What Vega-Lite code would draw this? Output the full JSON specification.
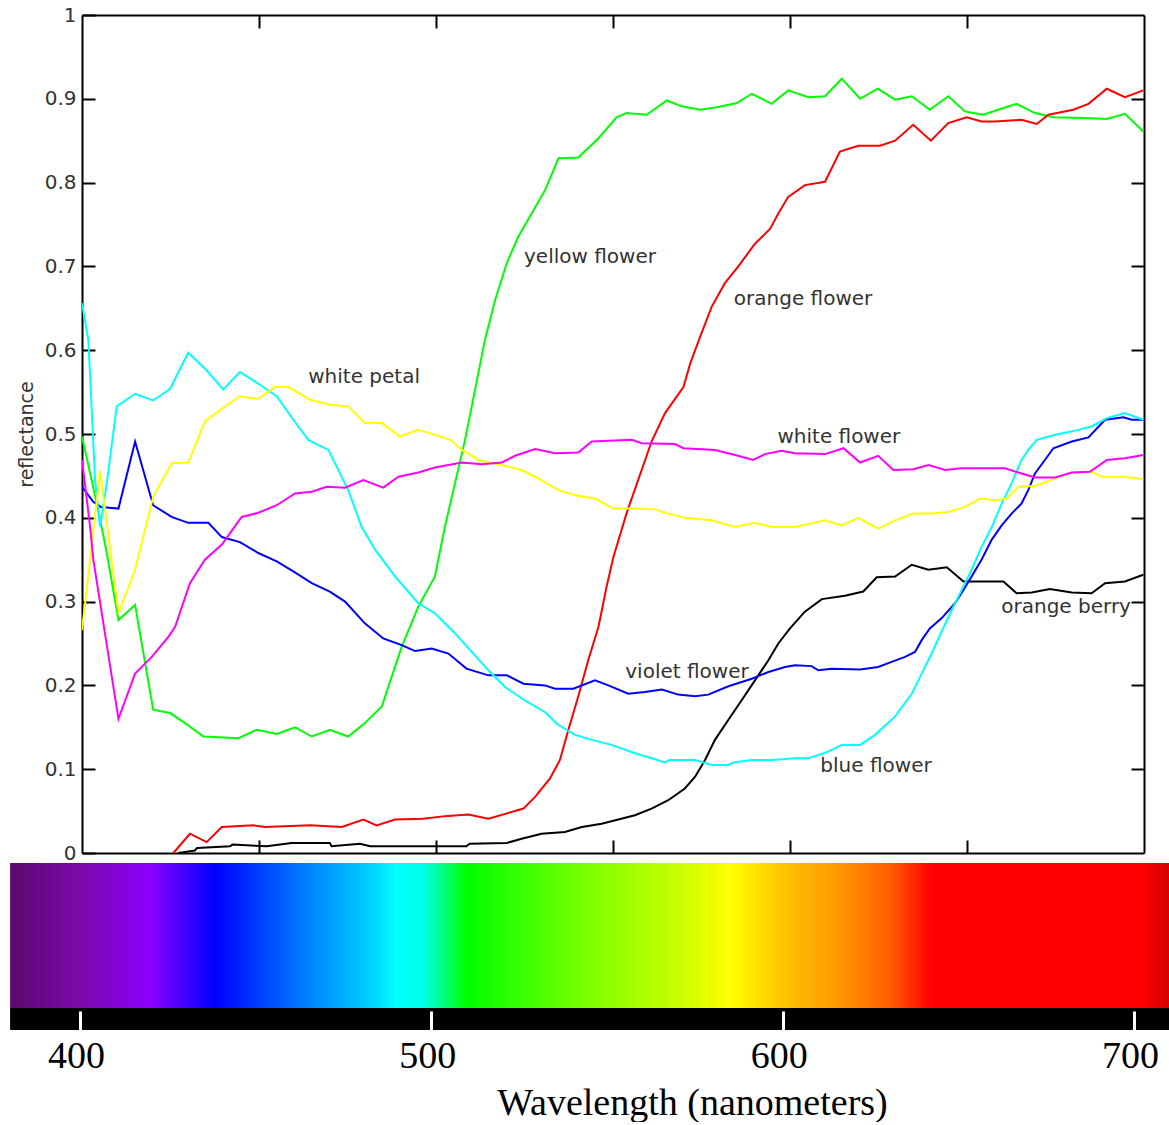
{
  "$schema": "https://vega.github.io/schema/vega-lite/v6.json",
  "background": "white",
  "padding": {"left": 10, "top": 5, "right": 0, "bottom": 0},
  "config": {"view": {"stroke": null}, "axis": {"grid": false}},
  "spacing": 0,
  "resolve": {"scale": {"x": "independent", "y": "independent"}},
  "datasets": {
    "spectra": [
      {"s":"yellow flower","wl":400.0,"r":0.497},{"s":"yellow flower","wl":404.6,"r":0.409},{"s":"yellow flower","wl":407.0,"r":0.358},{"s":"yellow flower","wl":410.3,"r":0.278},{"s":"yellow flower","wl":415.0,"r":0.296},{"s":"yellow flower","wl":420.1,"r":0.171},{"s":"yellow flower","wl":424.9,"r":0.167},{"s":"yellow flower","wl":429.1,"r":0.155},{"s":"yellow flower","wl":434.3,"r":0.139},{"s":"yellow flower","wl":444.2,"r":0.137},{"s":"yellow flower","wl":449.3,"r":0.147},{"s":"yellow flower","wl":455.0,"r":0.142},{"s":"yellow flower","wl":460.2,"r":0.150},{"s":"yellow flower","wl":464.9,"r":0.139},{"s":"yellow flower","wl":470.0,"r":0.147},{"s":"yellow flower","wl":475.2,"r":0.139},{"s":"yellow flower","wl":479.9,"r":0.155},{"s":"yellow flower","wl":484.7,"r":0.175},{"s":"yellow flower","wl":490.3,"r":0.246},{"s":"yellow flower","wl":495.0,"r":0.294},{"s":"yellow flower","wl":499.7,"r":0.330},{"s":"yellow flower","wl":502.5,"r":0.389},{"s":"yellow flower","wl":508.2,"r":0.493},{"s":"yellow flower","wl":511.0,"r":0.552},{"s":"yellow flower","wl":513.8,"r":0.612},{"s":"yellow flower","wl":516.7,"r":0.660},{"s":"yellow flower","wl":520.0,"r":0.704},{"s":"yellow flower","wl":523.2,"r":0.735},{"s":"yellow flower","wl":527.0,"r":0.763},{"s":"yellow flower","wl":530.8,"r":0.791},{"s":"yellow flower","wl":534.6,"r":0.829},{"s":"yellow flower","wl":540.2,"r":0.830},{"s":"yellow flower","wl":545.9,"r":0.853},{"s":"yellow flower","wl":551.0,"r":0.878},{"s":"yellow flower","wl":553.8,"r":0.883},{"s":"yellow flower","wl":559.5,"r":0.881},{"s":"yellow flower","wl":565.2,"r":0.898},{"s":"yellow flower","wl":569.4,"r":0.891},{"s":"yellow flower","wl":574.6,"r":0.887},{"s":"yellow flower","wl":579.3,"r":0.890},{"s":"yellow flower","wl":585.0,"r":0.895},{"s":"yellow flower","wl":589.2,"r":0.906},{"s":"yellow flower","wl":594.8,"r":0.894},{"s":"yellow flower","wl":599.5,"r":0.910},{"s":"yellow flower","wl":605.2,"r":0.902},{"s":"yellow flower","wl":609.9,"r":0.903},{"s":"yellow flower","wl":614.6,"r":0.924},{"s":"yellow flower","wl":619.8,"r":0.900},{"s":"yellow flower","wl":624.8,"r":0.912},{"s":"yellow flower","wl":629.7,"r":0.899},{"s":"yellow flower","wl":634.4,"r":0.903},{"s":"yellow flower","wl":639.5,"r":0.887},{"s":"yellow flower","wl":644.7,"r":0.903},{"s":"yellow flower","wl":649.4,"r":0.885},{"s":"yellow flower","wl":654.6,"r":0.881},{"s":"yellow flower","wl":658.8,"r":0.887},{"s":"yellow flower","wl":664.0,"r":0.894},{"s":"yellow flower","wl":669.2,"r":0.883},{"s":"yellow flower","wl":674.4,"r":0.878},{"s":"yellow flower","wl":683.3,"r":0.877},{"s":"yellow flower","wl":689.5,"r":0.876},{"s":"yellow flower","wl":694.6,"r":0.882},{"s":"yellow flower","wl":699.8,"r":0.861},

      {"s":"orange flower","wl":425.8,"r":0.000},{"s":"orange flower","wl":430.5,"r":0.023},{"s":"orange flower","wl":435.2,"r":0.013},{"s":"orange flower","wl":439.5,"r":0.031},{"s":"orange flower","wl":448.4,"r":0.033},{"s":"orange flower","wl":451.7,"r":0.031},{"s":"orange flower","wl":464.4,"r":0.033},{"s":"orange flower","wl":473.4,"r":0.031},{"s":"orange flower","wl":479.5,"r":0.040},{"s":"orange flower","wl":483.2,"r":0.033},{"s":"orange flower","wl":488.4,"r":0.040},{"s":"orange flower","wl":496.4,"r":0.041},{"s":"orange flower","wl":502.5,"r":0.044},{"s":"orange flower","wl":509.1,"r":0.046},{"s":"orange flower","wl":514.8,"r":0.041},{"s":"orange flower","wl":524.7,"r":0.053},{"s":"orange flower","wl":528.0,"r":0.067},{"s":"orange flower","wl":532.2,"r":0.089},{"s":"orange flower","wl":535.0,"r":0.111},{"s":"orange flower","wl":537.4,"r":0.147},{"s":"orange flower","wl":540.2,"r":0.187},{"s":"orange flower","wl":543.0,"r":0.230},{"s":"orange flower","wl":545.9,"r":0.270},{"s":"orange flower","wl":548.2,"r":0.318},{"s":"orange flower","wl":550.1,"r":0.353},{"s":"orange flower","wl":553.8,"r":0.405},{"s":"orange flower","wl":557.1,"r":0.445},{"s":"orange flower","wl":560.9,"r":0.491},{"s":"orange flower","wl":564.7,"r":0.525},{"s":"orange flower","wl":569.9,"r":0.556},{"s":"orange flower","wl":571.8,"r":0.584},{"s":"orange flower","wl":574.6,"r":0.616},{"s":"orange flower","wl":577.9,"r":0.652},{"s":"orange flower","wl":581.6,"r":0.680},{"s":"orange flower","wl":585.4,"r":0.700},{"s":"orange flower","wl":590.1,"r":0.727},{"s":"orange flower","wl":594.4,"r":0.745},{"s":"orange flower","wl":596.7,"r":0.763},{"s":"orange flower","wl":599.5,"r":0.783},{"s":"orange flower","wl":604.2,"r":0.797},{"s":"orange flower","wl":609.9,"r":0.801},{"s":"orange flower","wl":614.1,"r":0.837},{"s":"orange flower","wl":619.3,"r":0.844},{"s":"orange flower","wl":625.4,"r":0.844},{"s":"orange flower","wl":629.7,"r":0.850},{"s":"orange flower","wl":634.8,"r":0.869},{"s":"orange flower","wl":639.8,"r":0.850},{"s":"orange flower","wl":644.7,"r":0.871},{"s":"orange flower","wl":649.9,"r":0.878},{"s":"orange flower","wl":654.1,"r":0.873},{"s":"orange flower","wl":657.9,"r":0.873},{"s":"orange flower","wl":665.4,"r":0.875},{"s":"orange flower","wl":669.7,"r":0.870},{"s":"orange flower","wl":673.0,"r":0.881},{"s":"orange flower","wl":680.0,"r":0.887},{"s":"orange flower","wl":684.3,"r":0.894},{"s":"orange flower","wl":689.5,"r":0.912},{"s":"orange flower","wl":694.6,"r":0.902},{"s":"orange flower","wl":699.8,"r":0.910},

      {"s":"orange berry","wl":427.2,"r":0.000},{"s":"orange berry","wl":431.9,"r":0.003},{"s":"orange berry","wl":432.5,"r":0.006},{"s":"orange berry","wl":441.8,"r":0.008},{"s":"orange berry","wl":442.5,"r":0.010},{"s":"orange berry","wl":452.2,"r":0.008},{"s":"orange berry","wl":459.2,"r":0.012},{"s":"orange berry","wl":470.0,"r":0.012},{"s":"orange berry","wl":470.5,"r":0.008},{"s":"orange berry","wl":478.5,"r":0.011},{"s":"orange berry","wl":481.4,"r":0.008},{"s":"orange berry","wl":499.7,"r":0.008},{"s":"orange berry","wl":508.6,"r":0.008},{"s":"orange berry","wl":509.5,"r":0.011},{"s":"orange berry","wl":520.0,"r":0.012},{"s":"orange berry","wl":524.2,"r":0.017},{"s":"orange berry","wl":529.8,"r":0.023},{"s":"orange berry","wl":536.4,"r":0.025},{"s":"orange berry","wl":541.2,"r":0.031},{"s":"orange berry","wl":546.8,"r":0.035},{"s":"orange berry","wl":551.5,"r":0.040},{"s":"orange berry","wl":556.2,"r":0.045},{"s":"orange berry","wl":560.9,"r":0.053},{"s":"orange berry","wl":565.6,"r":0.063},{"s":"orange berry","wl":570.3,"r":0.077},{"s":"orange berry","wl":573.2,"r":0.091},{"s":"orange berry","wl":576.0,"r":0.111},{"s":"orange berry","wl":578.8,"r":0.135},{"s":"orange berry","wl":582.6,"r":0.159},{"s":"orange berry","wl":586.3,"r":0.182},{"s":"orange berry","wl":590.1,"r":0.206},{"s":"orange berry","wl":593.9,"r":0.230},{"s":"orange berry","wl":596.7,"r":0.250},{"s":"orange berry","wl":600.0,"r":0.268},{"s":"orange berry","wl":604.2,"r":0.288},{"s":"orange berry","wl":609.0,"r":0.303},{"s":"orange berry","wl":615.5,"r":0.307},{"s":"orange berry","wl":620.7,"r":0.312},{"s":"orange berry","wl":624.5,"r":0.329},{"s":"orange berry","wl":629.7,"r":0.330},{"s":"orange berry","wl":634.4,"r":0.344},{"s":"orange berry","wl":639.1,"r":0.338},{"s":"orange berry","wl":644.3,"r":0.341},{"s":"orange berry","wl":649.0,"r":0.324},{"s":"orange berry","wl":660.3,"r":0.324},{"s":"orange berry","wl":664.0,"r":0.310},{"s":"orange berry","wl":668.3,"r":0.311},{"s":"orange berry","wl":673.4,"r":0.315},{"s":"orange berry","wl":679.6,"r":0.311},{"s":"orange berry","wl":685.2,"r":0.310},{"s":"orange berry","wl":689.0,"r":0.322},{"s":"orange berry","wl":694.6,"r":0.324},{"s":"orange berry","wl":699.8,"r":0.332},

      {"s":"violet flower","wl":400.0,"r":0.437},{"s":"violet flower","wl":403.2,"r":0.419},{"s":"violet flower","wl":405.3,"r":0.413},{"s":"violet flower","wl":410.3,"r":0.411},{"s":"violet flower","wl":415.0,"r":0.491},{"s":"violet flower","wl":420.1,"r":0.415},{"s":"violet flower","wl":425.3,"r":0.401},{"s":"violet flower","wl":430.0,"r":0.394},{"s":"violet flower","wl":435.7,"r":0.394},{"s":"violet flower","wl":439.5,"r":0.377},{"s":"violet flower","wl":444.6,"r":0.371},{"s":"violet flower","wl":449.8,"r":0.358},{"s":"violet flower","wl":455.0,"r":0.348},{"s":"violet flower","wl":459.7,"r":0.336},{"s":"violet flower","wl":464.9,"r":0.322},{"s":"violet flower","wl":470.0,"r":0.312},{"s":"violet flower","wl":474.3,"r":0.300},{"s":"violet flower","wl":479.9,"r":0.274},{"s":"violet flower","wl":485.1,"r":0.256},{"s":"violet flower","wl":490.3,"r":0.248},{"s":"violet flower","wl":494.1,"r":0.241},{"s":"violet flower","wl":498.8,"r":0.244},{"s":"violet flower","wl":503.5,"r":0.238},{"s":"violet flower","wl":508.6,"r":0.220},{"s":"violet flower","wl":514.8,"r":0.212},{"s":"violet flower","wl":520.0,"r":0.212},{"s":"violet flower","wl":524.7,"r":0.202},{"s":"violet flower","wl":530.8,"r":0.200},{"s":"violet flower","wl":533.6,"r":0.196},{"s":"violet flower","wl":538.8,"r":0.196},{"s":"violet flower","wl":544.9,"r":0.206},{"s":"violet flower","wl":548.7,"r":0.200},{"s":"violet flower","wl":554.3,"r":0.190},{"s":"violet flower","wl":559.0,"r":0.192},{"s":"violet flower","wl":563.8,"r":0.195},{"s":"violet flower","wl":568.4,"r":0.189},{"s":"violet flower","wl":573.2,"r":0.187},{"s":"violet flower","wl":576.9,"r":0.189},{"s":"violet flower","wl":582.6,"r":0.199},{"s":"violet flower","wl":589.2,"r":0.208},{"s":"violet flower","wl":593.9,"r":0.216},{"s":"violet flower","wl":598.6,"r":0.222},{"s":"violet flower","wl":601.4,"r":0.224},{"s":"violet flower","wl":606.1,"r":0.223},{"s":"violet flower","wl":608.0,"r":0.218},{"s":"violet flower","wl":611.8,"r":0.220},{"s":"violet flower","wl":619.8,"r":0.219},{"s":"violet flower","wl":624.9,"r":0.222},{"s":"violet flower","wl":628.7,"r":0.228},{"s":"violet flower","wl":632.5,"r":0.234},{"s":"violet flower","wl":635.3,"r":0.240},{"s":"violet flower","wl":637.2,"r":0.254},{"s":"violet flower","wl":639.5,"r":0.268},{"s":"violet flower","wl":642.8,"r":0.280},{"s":"violet flower","wl":646.6,"r":0.298},{"s":"violet flower","wl":649.0,"r":0.314},{"s":"violet flower","wl":651.3,"r":0.330},{"s":"violet flower","wl":654.1,"r":0.350},{"s":"violet flower","wl":657.0,"r":0.374},{"s":"violet flower","wl":659.8,"r":0.391},{"s":"violet flower","wl":662.6,"r":0.405},{"s":"violet flower","wl":665.4,"r":0.417},{"s":"violet flower","wl":667.3,"r":0.433},{"s":"violet flower","wl":669.2,"r":0.453},{"s":"violet flower","wl":672.0,"r":0.469},{"s":"violet flower","wl":674.4,"r":0.483},{"s":"violet flower","wl":679.6,"r":0.491},{"s":"violet flower","wl":684.3,"r":0.496},{"s":"violet flower","wl":689.0,"r":0.517},{"s":"violet flower","wl":694.2,"r":0.520},{"s":"violet flower","wl":696.5,"r":0.517},{"s":"violet flower","wl":699.8,"r":0.517},

      {"s":"blue flower","wl":400.0,"r":0.656},{"s":"blue flower","wl":401.8,"r":0.612},{"s":"blue flower","wl":403.7,"r":0.445},{"s":"blue flower","wl":405.1,"r":0.389},{"s":"blue flower","wl":407.0,"r":0.441},{"s":"blue flower","wl":409.8,"r":0.533},{"s":"blue flower","wl":415.0,"r":0.548},{"s":"blue flower","wl":420.1,"r":0.540},{"s":"blue flower","wl":424.9,"r":0.554},{"s":"blue flower","wl":430.0,"r":0.597},{"s":"blue flower","wl":435.2,"r":0.576},{"s":"blue flower","wl":439.9,"r":0.553},{"s":"blue flower","wl":444.6,"r":0.574},{"s":"blue flower","wl":449.8,"r":0.560},{"s":"blue flower","wl":455.0,"r":0.545},{"s":"blue flower","wl":459.7,"r":0.517},{"s":"blue flower","wl":463.9,"r":0.493},{"s":"blue flower","wl":469.6,"r":0.481},{"s":"blue flower","wl":475.2,"r":0.433},{"s":"blue flower","wl":479.0,"r":0.389},{"s":"blue flower","wl":482.8,"r":0.362},{"s":"blue flower","wl":488.4,"r":0.330},{"s":"blue flower","wl":495.0,"r":0.298},{"s":"blue flower","wl":499.7,"r":0.286},{"s":"blue flower","wl":505.4,"r":0.262},{"s":"blue flower","wl":510.1,"r":0.240},{"s":"blue flower","wl":514.8,"r":0.218},{"s":"blue flower","wl":519.5,"r":0.198},{"s":"blue flower","wl":525.1,"r":0.182},{"s":"blue flower","wl":530.8,"r":0.168},{"s":"blue flower","wl":534.5,"r":0.153},{"s":"blue flower","wl":539.3,"r":0.141},{"s":"blue flower","wl":544.0,"r":0.135},{"s":"blue flower","wl":549.6,"r":0.129},{"s":"blue flower","wl":556.2,"r":0.119},{"s":"blue flower","wl":560.9,"r":0.113},{"s":"blue flower","wl":564.7,"r":0.108},{"s":"blue flower","wl":566.0,"r":0.111},{"s":"blue flower","wl":573.2,"r":0.111},{"s":"blue flower","wl":577.9,"r":0.105},{"s":"blue flower","wl":582.6,"r":0.105},{"s":"blue flower","wl":584.0,"r":0.108},{"s":"blue flower","wl":589.2,"r":0.111},{"s":"blue flower","wl":594.8,"r":0.111},{"s":"blue flower","wl":601.4,"r":0.113},{"s":"blue flower","wl":605.2,"r":0.113},{"s":"blue flower","wl":610.8,"r":0.121},{"s":"blue flower","wl":614.6,"r":0.129},{"s":"blue flower","wl":619.8,"r":0.129},{"s":"blue flower","wl":624.0,"r":0.141},{"s":"blue flower","wl":629.7,"r":0.163},{"s":"blue flower","wl":634.4,"r":0.190},{"s":"blue flower","wl":637.2,"r":0.214},{"s":"blue flower","wl":640.0,"r":0.238},{"s":"blue flower","wl":642.8,"r":0.264},{"s":"blue flower","wl":645.7,"r":0.290},{"s":"blue flower","wl":648.5,"r":0.314},{"s":"blue flower","wl":651.3,"r":0.338},{"s":"blue flower","wl":654.1,"r":0.365},{"s":"blue flower","wl":657.0,"r":0.389},{"s":"blue flower","wl":659.8,"r":0.417},{"s":"blue flower","wl":662.6,"r":0.441},{"s":"blue flower","wl":665.4,"r":0.469},{"s":"blue flower","wl":667.3,"r":0.481},{"s":"blue flower","wl":669.7,"r":0.493},{"s":"blue flower","wl":674.9,"r":0.499},{"s":"blue flower","wl":680.5,"r":0.504},{"s":"blue flower","wl":685.2,"r":0.509},{"s":"blue flower","wl":689.5,"r":0.519},{"s":"blue flower","wl":694.6,"r":0.525},{"s":"blue flower","wl":699.8,"r":0.517},

      {"s":"white petal","wl":400.0,"r":0.266},{"s":"white petal","wl":402.3,"r":0.350},{"s":"white petal","wl":405.1,"r":0.456},{"s":"white petal","wl":410.3,"r":0.286},{"s":"white petal","wl":415.0,"r":0.338},{"s":"white petal","wl":420.1,"r":0.425},{"s":"white petal","wl":425.3,"r":0.465},{"s":"white petal","wl":430.0,"r":0.466},{"s":"white petal","wl":433.3,"r":0.500},{"s":"white petal","wl":434.7,"r":0.515},{"s":"white petal","wl":439.5,"r":0.530},{"s":"white petal","wl":444.6,"r":0.545},{"s":"white petal","wl":449.8,"r":0.542},{"s":"white petal","wl":454.5,"r":0.556},{"s":"white petal","wl":458.3,"r":0.556},{"s":"white petal","wl":464.4,"r":0.541},{"s":"white petal","wl":470.0,"r":0.535},{"s":"white petal","wl":475.2,"r":0.533},{"s":"white petal","wl":479.9,"r":0.513},{"s":"white petal","wl":484.7,"r":0.513},{"s":"white petal","wl":489.8,"r":0.497},{"s":"white petal","wl":495.0,"r":0.505},{"s":"white petal","wl":499.7,"r":0.499},{"s":"white petal","wl":504.0,"r":0.493},{"s":"white petal","wl":507.3,"r":0.481},{"s":"white petal","wl":512.0,"r":0.469},{"s":"white petal","wl":518.6,"r":0.463},{"s":"white petal","wl":524.2,"r":0.457},{"s":"white petal","wl":528.0,"r":0.449},{"s":"white petal","wl":534.6,"r":0.433},{"s":"white petal","wl":539.3,"r":0.427},{"s":"white petal","wl":545.0,"r":0.423},{"s":"white petal","wl":550.1,"r":0.411},{"s":"white petal","wl":556.2,"r":0.411},{"s":"white petal","wl":561.9,"r":0.410},{"s":"white petal","wl":565.6,"r":0.405},{"s":"white petal","wl":570.3,"r":0.400},{"s":"white petal","wl":577.9,"r":0.397},{"s":"white petal","wl":584.5,"r":0.389},{"s":"white petal","wl":590.1,"r":0.394},{"s":"white petal","wl":594.8,"r":0.389},{"s":"white petal","wl":601.4,"r":0.389},{"s":"white petal","wl":605.6,"r":0.393},{"s":"white petal","wl":609.9,"r":0.397},{"s":"white petal","wl":614.6,"r":0.391},{"s":"white petal","wl":619.3,"r":0.400},{"s":"white petal","wl":624.9,"r":0.387},{"s":"white petal","wl":629.7,"r":0.397},{"s":"white petal","wl":634.8,"r":0.405},{"s":"white petal","wl":640.0,"r":0.405},{"s":"white petal","wl":644.7,"r":0.407},{"s":"white petal","wl":649.4,"r":0.413},{"s":"white petal","wl":653.7,"r":0.423},{"s":"white petal","wl":657.9,"r":0.421},{"s":"white petal","wl":661.2,"r":0.423},{"s":"white petal","wl":664.5,"r":0.437},{"s":"white petal","wl":669.2,"r":0.438},{"s":"white petal","wl":674.9,"r":0.447},{"s":"white petal","wl":679.6,"r":0.454},{"s":"white petal","wl":685.2,"r":0.455},{"s":"white petal","wl":688.0,"r":0.449},{"s":"white petal","wl":694.6,"r":0.449},{"s":"white petal","wl":699.8,"r":0.446},

      {"s":"white flower","wl":400.0,"r":0.469},{"s":"white flower","wl":402.3,"r":0.389},{"s":"white flower","wl":403.2,"r":0.350},{"s":"white flower","wl":410.3,"r":0.160},{"s":"white flower","wl":415.0,"r":0.214},{"s":"white flower","wl":419.7,"r":0.234},{"s":"white flower","wl":424.4,"r":0.258},{"s":"white flower","wl":426.3,"r":0.270},{"s":"white flower","wl":430.5,"r":0.322},{"s":"white flower","wl":434.7,"r":0.350},{"s":"white flower","wl":439.5,"r":0.368},{"s":"white flower","wl":445.1,"r":0.401},{"s":"white flower","wl":449.8,"r":0.406},{"s":"white flower","wl":455.0,"r":0.415},{"s":"white flower","wl":460.2,"r":0.429},{"s":"white flower","wl":464.9,"r":0.431},{"s":"white flower","wl":469.1,"r":0.437},{"s":"white flower","wl":474.3,"r":0.436},{"s":"white flower","wl":479.5,"r":0.445},{"s":"white flower","wl":485.1,"r":0.436},{"s":"white flower","wl":489.4,"r":0.449},{"s":"white flower","wl":495.0,"r":0.454},{"s":"white flower","wl":499.7,"r":0.460},{"s":"white flower","wl":507.3,"r":0.466},{"s":"white flower","wl":512.9,"r":0.464},{"s":"white flower","wl":518.6,"r":0.466},{"s":"white flower","wl":522.3,"r":0.474},{"s":"white flower","wl":528.0,"r":0.482},{"s":"white flower","wl":533.6,"r":0.477},{"s":"white flower","wl":540.2,"r":0.478},{"s":"white flower","wl":544.0,"r":0.491},{"s":"white flower","wl":555.3,"r":0.493},{"s":"white flower","wl":558.1,"r":0.489},{"s":"white flower","wl":567.5,"r":0.488},{"s":"white flower","wl":569.9,"r":0.483},{"s":"white flower","wl":578.8,"r":0.481},{"s":"white flower","wl":584.5,"r":0.475},{"s":"white flower","wl":589.6,"r":0.469},{"s":"white flower","wl":592.9,"r":0.476},{"s":"white flower","wl":597.6,"r":0.480},{"s":"white flower","wl":601.4,"r":0.477},{"s":"white flower","wl":609.9,"r":0.476},{"s":"white flower","wl":615.1,"r":0.483},{"s":"white flower","wl":619.8,"r":0.466},{"s":"white flower","wl":624.9,"r":0.474},{"s":"white flower","wl":629.2,"r":0.457},{"s":"white flower","wl":634.8,"r":0.458},{"s":"white flower","wl":639.1,"r":0.463},{"s":"white flower","wl":643.8,"r":0.457},{"s":"white flower","wl":648.5,"r":0.459},{"s":"white flower","wl":660.7,"r":0.459},{"s":"white flower","wl":664.5,"r":0.454},{"s":"white flower","wl":669.2,"r":0.448},{"s":"white flower","wl":674.9,"r":0.448},{"s":"white flower","wl":679.6,"r":0.454},{"s":"white flower","wl":684.7,"r":0.455},{"s":"white flower","wl":689.5,"r":0.469},{"s":"white flower","wl":694.6,"r":0.471},{"s":"white flower","wl":699.8,"r":0.475}
    ],
    "labels": [
      {"label":"white petal","wl":479.7,"r":0.568},
      {"label":"yellow flower","wl":543.5,"r":0.711},
      {"label":"orange flower","wl":603.7,"r":0.661},
      {"label":"white flower","wl":613.8,"r":0.496},
      {"label":"violet flower","wl":570.9,"r":0.216},
      {"label":"blue flower","wl":624.3,"r":0.104},
      {"label":"orange berry","wl":678.0,"r":0.294}
    ],
    "bar": [{"from":380.1,"to":710.0}]
  },
  "vconcat": [
    {
      "width": 1062,
      "height": 838,
      "resolve": {"axis": {"x": "independent", "y": "independent"}},
      "layer": [
        {
          "data": {"name": "spectra"},
          "mark": {"type": "line", "strokeWidth": 2, "clip": true},
          "encoding": {
            "x": {"field": "wl", "type": "quantitative",
                  "scale": {"domain": [400, 700], "nice": false, "zero": false},
                  "axis": {"orient": "bottom", "values": [450, 500, 550, 600, 650], "labels": false, "title": null,
                           "tickSize": -13, "tickWidth": 2, "tickColor": "black", "domainColor": "black", "domainWidth": 2, "grid": false}},
            "y": {"field": "r", "type": "quantitative",
                  "scale": {"domain": [0, 1], "nice": false, "zero": false},
                  "axis": {"orient": "left", "values": [0, 0.1, 0.2, 0.3, 0.4, 0.5, 0.6, 0.7, 0.8, 0.9, 1], "format": "~g",
                           "tickSize": -13, "tickWidth": 2, "tickColor": "black", "domainColor": "black", "domainWidth": 2,
                           "labelPadding": 19, "labelFont": "DejaVu Sans", "labelFontSize": 20, "labelColor": "#333333",
                           "labelOverlap": false, "labelFlush": false,
                           "title": "reflectance", "titleFont": "DejaVu Sans", "titleFontSize": 19, "titleFontWeight": "normal",
                           "titleColor": "#333333", "titlePadding": 8, "grid": false}},
            "color": {"field": "s", "type": "nominal",
                      "scale": {"domain": ["yellow flower", "orange flower", "orange berry", "violet flower", "blue flower", "white petal", "white flower"],
                                "range": ["#00ff00", "#ff0000", "#000000", "#0000ff", "#00ffff", "#ffff00", "#ff00ff"]},
                      "legend": null}
          }
        },
        {
          "data": {"name": "labels"},
          "mark": {"type": "text", "font": "DejaVu Sans", "fontSize": 20, "color": "#333333", "align": "center", "baseline": "middle"},
          "encoding": {
            "x": {"field": "wl", "type": "quantitative",
                  "axis": {"orient": "top", "values": [450, 500, 550, 600, 650], "labels": false, "title": null,
                           "tickSize": -13, "tickWidth": 2, "tickColor": "black", "domainColor": "black", "domainWidth": 2, "grid": false}},
            "y": {"field": "r", "type": "quantitative",
                  "axis": {"orient": "right", "values": [0.1, 0.2, 0.3, 0.4, 0.5, 0.6, 0.7, 0.8, 0.9], "labels": false, "title": null,
                           "tickSize": -13, "tickWidth": 2, "tickColor": "black", "domainColor": "black", "domainWidth": 2, "grid": false}},
            "text": {"field": "label", "type": "nominal"}
          }
        }
      ]
    },
    {
      "width": 1087,
      "height": 145,
      "data": {"name": "bar"},
      "mark": {"type": "rect", "stroke": null,
               "fill": {"gradient": "linear", "x1": 0, "y1": 0, "x2": 1, "y2": 0,
                        "stops": [
                          {"offset": 0, "color": "#5a0a6e"},
                          {"offset": 0.061, "color": "#7a0aa8"},
                          {"offset": 0.121, "color": "#8c00ff"},
                          {"offset": 0.177, "color": "#0000ff"},
                          {"offset": 0.248, "color": "#0073ff"},
                          {"offset": 0.315, "color": "#00d8ff"},
                          {"offset": 0.333, "color": "#00ffff"},
                          {"offset": 0.357, "color": "#00ffe8"},
                          {"offset": 0.394, "color": "#00ff00"},
                          {"offset": 0.500, "color": "#7fff00"},
                          {"offset": 0.576, "color": "#c8ff00"},
                          {"offset": 0.621, "color": "#ffff00"},
                          {"offset": 0.667, "color": "#ffc400"},
                          {"offset": 0.712, "color": "#ff9a00"},
                          {"offset": 0.758, "color": "#ff6000"},
                          {"offset": 0.795, "color": "#ff0000"},
                          {"offset": 0.974, "color": "#ff0000"},
                          {"offset": 1, "color": "#d80000"}
                        ]}},
      "encoding": {
        "x": {"field": "from", "type": "quantitative",
              "scale": {"domain": [400, 709.4], "range": [-2, 1085], "nice": false, "zero": false}, "axis": null},
        "x2": {"field": "to"}
      }
    },
    {
      "width": 1087,
      "height": 22,
      "data": {"name": "bar"},
      "mark": {"type": "rect", "fill": "black", "stroke": null},
      "encoding": {
        "x": {"field": "from", "type": "quantitative",
              "scale": {"domain": [400, 709.4], "range": [-2, 1085], "nice": false, "zero": false},
              "axis": {"orient": "bottom", "values": [400, 500, 600, 700], "domain": false, "zindex": 1,
                       "tickSize": -19, "tickWidth": 3, "tickColor": "white",
                       "labelPadding": 26, "labelOffset": -4, "labelFont": "Liberation Serif", "labelFontSize": 38, "labelColor": "black", "labelFlush": false,
                       "title": "Wavelength (nanometers)", "titleX": 610, "titleFont": "Liberation Serif", "titleFontSize": 38, "titleFontWeight": "normal",
                       "titleColor": "black", "titlePadding": 9, "grid": false}},
        "x2": {"field": "to"}
      }
    }
  ]
}
